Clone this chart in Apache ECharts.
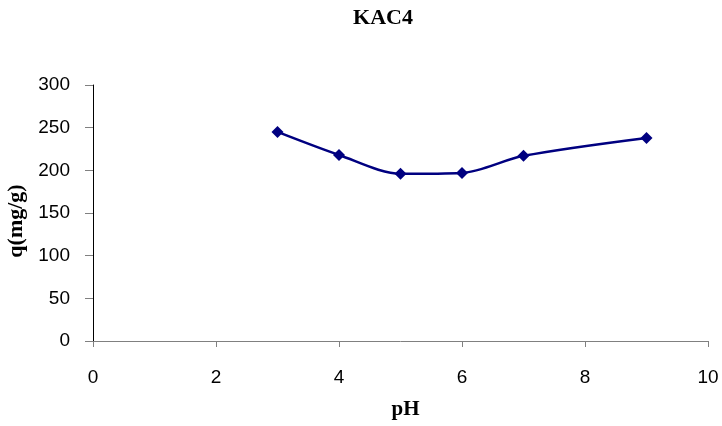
<!DOCTYPE html>
<html>
<head>
<meta charset="utf-8">
<script src="https://cdn.jsdelivr.net/npm/echarts@6/dist/echarts.min.js"></script>
<style>
  html, body { margin: 0; padding: 0; background: #fff; }
  #chart { width: 722px; height: 426px; }
</style>
</head>
<body>
<div id="chart"></div>
<script>
// Adsorption capacity of KAC4 versus solution pH
const phValues = [3, 4, 5, 6, 7, 9];
const capacity = [245, 218, 196, 197, 217, 238];
const xTicks = [0, 2, 4, 6, 8, 10];
const yTicks = [0, 50, 100, 150, 200, 250, 300];

const chart = echarts.init(document.getElementById('chart'), null, { renderer: 'canvas' });

chart.setOption({
  animation: false,
  backgroundColor: '#ffffff',
  title: {
    text: 'KAC4',
    left: 378,
    top: 2,
    textAlign: 'center',
    textStyle: { fontFamily: 'Liberation Serif', fontWeight: 'bold', fontSize: 22, color: '#000' }
  },
  grid: { left: 93, right: 14, top: 85, bottom: 85, containLabel: false, outerBoundsMode: 'none' },
  xAxis: {
    type: 'value',
    min: xTicks[0],
    max: xTicks[xTicks.length - 1],
    interval: 2,
    name: 'pH',
    nameLocation: 'middle',
    nameGap: 58,
    nameTextStyle: { fontFamily: 'Liberation Serif', fontWeight: 'bold', fontSize: 21, color: '#000', padding: [0, 0, 0, 10] },
    axisLine: { onZero: false, lineStyle: { color: '#808080', width: 1 } },
    axisTick: { show: true, inside: false, length: 6, lineStyle: { color: '#808080' } },
    axisLabel: { fontFamily: 'Liberation Sans', fontSize: 19, color: '#000', margin: 27 },
    splitLine: { show: false }
  },
  yAxis: {
    type: 'value',
    min: yTicks[0],
    max: yTicks[yTicks.length - 1],
    interval: 50,
    name: 'q(mg/g)',
    nameLocation: 'middle',
    nameGap: 62,
    nameRotate: 90,
    nameTextStyle: { fontFamily: 'Liberation Serif', fontWeight: 'bold', fontSize: 22, color: '#000', padding: [0, 16, 0, 0] },
    axisLine: { show: true, lineStyle: { color: '#000', width: 1 } },
    axisTick: { show: true, inside: false, length: 8, lineStyle: { color: '#808080' } },
    axisLabel: { fontFamily: 'Liberation Sans', fontSize: 19, color: '#000', margin: 23 },
    splitLine: { show: false }
  },
  series: [{
    type: 'line',
    data: phValues.map((x, i) => [x, capacity[i]]),
    smooth: 0.3,
    symbol: 'diamond',
    symbolSize: 12,
    itemStyle: { color: '#000080' },
    lineStyle: { color: '#000080', width: 2.5 }
  }]
});
</script>
</body>
</html>
